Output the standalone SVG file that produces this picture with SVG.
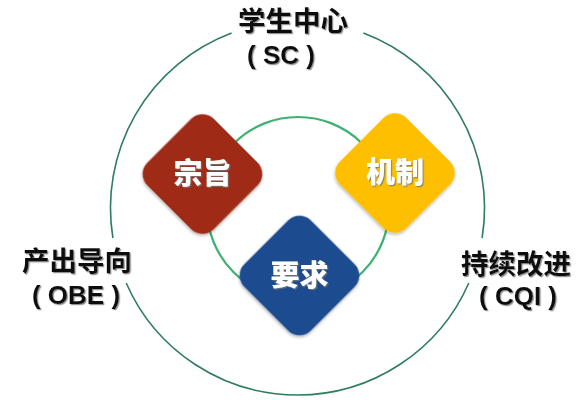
<svg xmlns="http://www.w3.org/2000/svg" width="584" height="400" viewBox="0 0 584 400">
<defs>
<style>
.lbl{font-family:"Liberation Sans","Noto Sans CJK SC",sans-serif;font-weight:bold;font-size:27.5px;fill:#111;text-anchor:middle}
.lat{font-size:26px}
.dtx{font-family:"Noto Sans CJK SC","Liberation Sans",sans-serif;font-weight:900;font-size:29px;fill:#fff;text-anchor:middle}
.outer{fill:none;stroke:#2f7d5c;stroke-width:1.6}
.inner{fill:none;stroke:#3db273;stroke-width:2.2}
</style>
<filter id="sh" x="-20%" y="-20%" width="140%" height="140%">
<feDropShadow dx="1" dy="1.5" stdDeviation="1.5" flood-color="#000" flood-opacity="0.3"/>
</filter>
<filter id="tsh" x="-10%" y="-10%" width="120%" height="130%">
<feDropShadow dx="1.2" dy="1.2" stdDeviation="0.6" flood-color="#777" flood-opacity="0.8"/>
</filter>
</defs>
<g id="connectors">
<path class="outer" d="M363.4 33 A187 187 0 0 1 482.1 238"/>
<path class="outer" d="M468.8 283 A187 187 0 0 1 126.2 283"/>
<path class="outer" d="M112.9 238 A187 187 0 0 1 231.6 33"/>
<circle class="inner" cx="298" cy="208" r="91"/>
</g>
<g id="node-zongzhi">
<rect x="155.5" y="127" width="94" height="94" rx="16" fill="#9f2b12" transform="rotate(45 202.5 174)" filter="url(#sh)"/>
<text class="dtx" x="202.5" y="184" filter="url(#tsh)">宗旨</text>
</g>
<g id="node-jizhi">
<rect x="348" y="126" width="94" height="94" rx="16" fill="#fdbf00" transform="rotate(45 395 173)" filter="url(#sh)"/>
<text class="dtx" x="395" y="183" filter="url(#tsh)">机制</text>
</g>
<g id="node-yaoqiu">
<rect x="252.5" y="228.5" width="94" height="94" rx="16" fill="#1f4c8f" transform="rotate(45 299.5 275.5)" filter="url(#sh)"/>
<text class="dtx" x="299.5" y="285.5" filter="url(#tsh)">要求</text>
</g>
<g id="label-sc" filter="url(#tsh)">
<text class="lbl" x="293" y="31">学生中心</text>
<text class="lbl lat" x="281" y="64">( SC )</text>
</g>
<g id="label-obe" filter="url(#tsh)">
<text class="lbl" x="77" y="271">产出导向</text>
<text class="lbl lat" x="76" y="304">( OBE )</text>
</g>
<g id="label-cqi" filter="url(#tsh)">
<text class="lbl" x="516" y="274">持续改进</text>
<text class="lbl lat" x="518" y="305">( CQI )</text>
</g>
</svg>
